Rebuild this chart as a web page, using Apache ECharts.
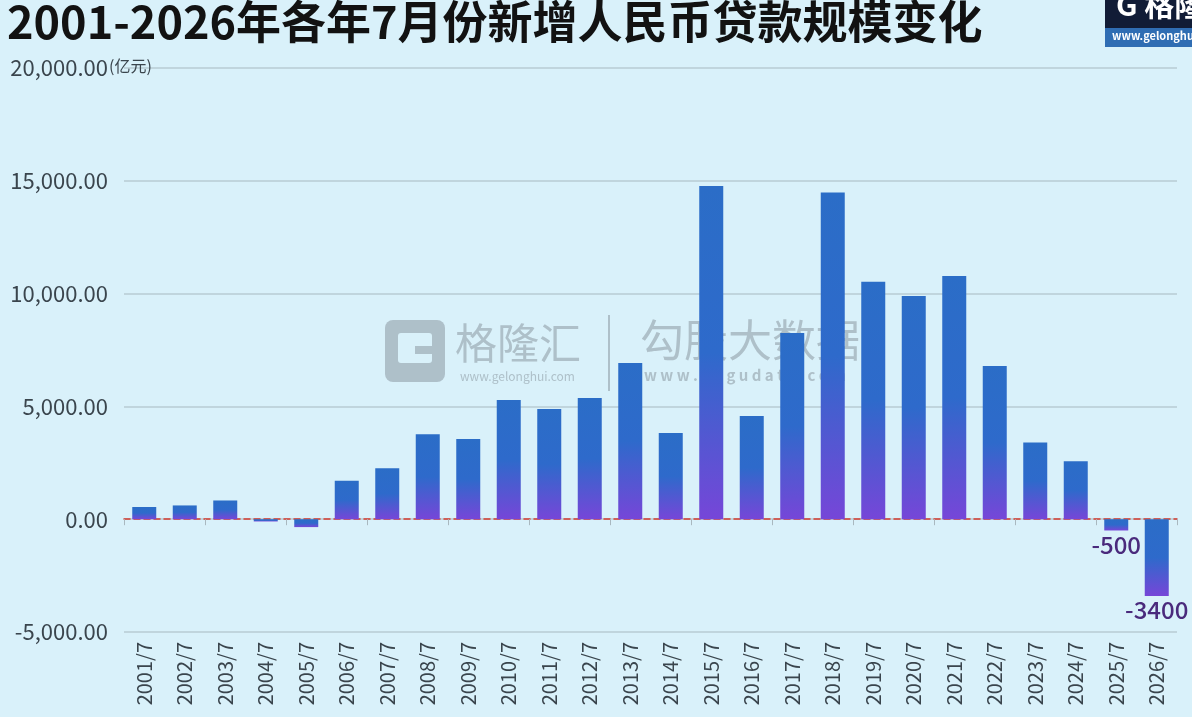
<!DOCTYPE html>
<html>
<head>
<meta charset="utf-8">
<script src="https://cdn.jsdelivr.net/npm/echarts@6/dist/echarts.min.js"></script>
<style>
html,body{margin:0;padding:0;background:#d9f1fa;}
#chart{width:1192px;height:717px;}
</style>
</head>
<body>
<div id="chart"></div>
<script>
const titleText = '2001-2026年各年7月份新增人民币贷款规模变化';
const unitText = '(亿元)';
const categories = ['2001/7','2002/7','2003/7','2004/7','2005/7','2006/7','2007/7','2008/7','2009/7','2010/7','2011/7','2012/7','2013/7','2014/7','2015/7','2016/7','2017/7','2018/7','2019/7','2020/7','2021/7','2022/7','2023/7','2024/7','2025/7','2026/7'];
const values = [540, 610, 830, -100, -350, 1700, 2260, 3770, 3550, 5280, 4880, 5370, 6920, 3820, 14770, 4570, 8250, 14480, 10530, 9890, 10780, 6790, 3400, 2570, -500, -3400];
const labelledCategories = ['2025/7', '2026/7'];
const yTicks = {min: -5000, max: 20000, interval: 5000};

const FONT = '"Noto Sans CJK SC", "Noto Sans", sans-serif';
const chart = echarts.init(document.getElementById('chart'));

const barGradient = new echarts.graphic.LinearGradient(0, 0, 0, 1, [
  {offset: 0, color: '#2b6dc7'},
  {offset: 0.5, color: '#2e6acb'},
  {offset: 1, color: '#7646d8'}
]);

const seriesData = values.map((v, i) => {
  const item = {value: v};
  if (labelledCategories.indexOf(categories[i]) >= 0) {
    item.label = {
      show: true,
      position: v < 0 ? 'bottom' : 'top',
      distance: 2,
      formatter: String(v),
      fontSize: 24,
      color: '#4a2a7c',
      fontFamily: FONT,
      fontWeight: 500
    };
  }
  return item;
});

const wmColor = '#aec0c9';

chart.setOption({
  backgroundColor: '#d9f1fa',
  animation: false,
  title: {
    text: titleText,
    left: 2,
    top: -6,
    textStyle: {fontSize: 45, fontWeight: 'bold', color: '#121212', fontFamily: FONT}
  },
  grid: {left: 124, right: 15, top: 68, bottom: 85, containLabel: false, outerBoundsMode: 'none'},
  xAxis: [{
    type: 'category',
    data: categories,
    position: 'bottom',
    axisLine: {show: false, onZero: false},
    axisTick: {show: false},
    axisLabel: {rotate: 90, margin: 10, fontSize: 20, color: '#3a454d', fontFamily: FONT, interval: 0}
  }, {
    type: 'category',
    data: categories,
    position: 'bottom',
    axisLine: {show: true, onZero: true, onZeroAxisIndex: 0, lineStyle: {color: '#d23a2e', width: 1.5, type: [6, 4]}},
    axisTick: {show: true, length: 6, lineStyle: {color: '#a9b8bf'}},
    axisLabel: {show: false}
  }],
  yAxis: {
    type: 'value',
    min: yTicks.min, max: yTicks.max, interval: yTicks.interval,
    axisLine: {show: false},
    axisTick: {show: false},
    splitLine: {lineStyle: {color: '#b7cbd3', width: 1.5}},
    axisLabel: {
      margin: 16, fontSize: 22, color: '#3a454d', fontFamily: FONT,
      formatter: v => v.toLocaleString('en-US', {minimumFractionDigits: 2, maximumFractionDigits: 2})
    }
  },
  graphic: [
    {type: 'text', left: 109, top: 58, z: 10, style: {text: unitText, fontSize: 16, fill: '#3a454d', fontFamily: FONT}},
    // top-right logo
    {type: 'rect', shape: {x: 1105, y: 0, width: 87, height: 28}, style: {fill: '#111c36'}, z: 10},
    {type: 'rect', shape: {x: 1105, y: 28, width: 87, height: 19}, style: {fill: '#2f6db3'}, z: 10},
    {type: 'text', x: 1112, y: 30, z: 11, style: {text: 'www.gelonghui', fontSize: 11, fontWeight: 'bold', fill: '#ffffff', fontFamily: FONT}},
    {type: 'text', x: 1116, y: -10, z: 11, style: {text: 'G 格隆', fontSize: 30, fontWeight: 'bold', fill: '#ffffff', fontFamily: FONT}},
    // watermark
    {type: 'rect', shape: {x: 385, y: 320, width: 60, height: 62, r: 8}, style: {fill: wmColor}, z: 0},
    {type: 'rect', shape: {x: 398, y: 333, width: 34, height: 30, r: 3}, style: {fill: '#d9f1fa'}, z: 0},
    {type: 'rect', shape: {x: 415, y: 346, width: 30, height: 8}, style: {fill: wmColor}, z: 0},
    {type: 'text', x: 455, y: 322, z: 0, style: {text: '格隆汇', fontSize: 42, fill: wmColor, fontFamily: FONT}},
    {type: 'text', x: 460, y: 370, z: 0, style: {text: 'www.gelonghui.com', fontSize: 12, fill: wmColor, fontFamily: FONT}},
    {type: 'rect', shape: {x: 608, y: 315, width: 2, height: 76}, style: {fill: wmColor}, z: 0},
    {type: 'text', x: 640, y: 318, z: 0, style: {text: '勾股大数据', fontSize: 44, fill: wmColor, fontFamily: FONT}},
    {type: 'text', x: 644, y: 368, z: 0, style: {text: 'w w w . g o g u d a t a . c o m', fontSize: 15, fontWeight: 'bold', fill: wmColor, fontFamily: FONT}}
  ],
  series: [{
    type: 'bar',
    xAxisIndex: 0,
    data: seriesData,
    barWidth: 24,
    z: 3,
    itemStyle: {color: barGradient},
    label: {show: false}
  }]
});
</script>
</body>
</html>
